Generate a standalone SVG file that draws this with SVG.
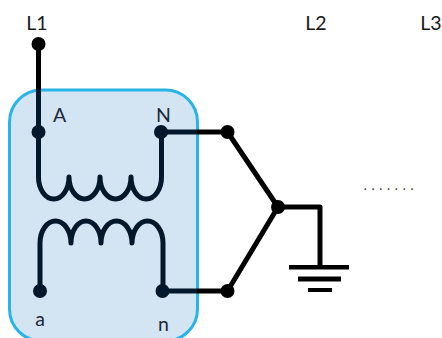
<svg xmlns="http://www.w3.org/2000/svg" width="442" height="338" viewBox="0 0 442 338">
<style>
.w{fill:none;stroke:#000;stroke-width:5;stroke-linejoin:round}
.i{fill:none;stroke:#04182c;stroke-width:5;stroke-linejoin:round}
.d{fill:#000}.n{fill:#04182c}
.g{fill:#000}
text{font-family:Lato,"Open Sans",sans-serif;font-size:19.500px;fill:#1a1a1a;text-anchor:middle}
.t{fill:#1c2a38}
</style>
<g id="box"><rect x="9.500" y="90" width="188" height="251" rx="32" ry="32" fill="#d3e4f2" stroke="#29b4e6" stroke-width="3"/></g>
<g id="connectors">
<path class="w" d="M38.500 44V90"/>
<path class="i" d="M38.500 90V132"/>
<path class="i" d="M38.500 132V177A15.250 22 0 0 0 69 177A15.500 22 0 0 0 100 177A15.500 22 0 0 0 131 177A15.250 22 0 0 0 161.500 177V132"/>
<path class="i" d="M40 291V243A15.500 22 0 0 1 71 243A15 22 0 0 1 101 243A15.500 22 0 0 1 132 243A15.500 22 0 0 1 163 243V291"/>
<path class="i" d="M161 132H197"/>
<path class="w" d="M197 132H227.500L278 207L227.500 291H197"/>
<path class="i" d="M162.500 291H197"/>
<path class="w" d="M278 207H320V267"/>
</g>
<g id="ground">
<rect class="g" x="289" y="265" width="60" height="4.500"/>
<rect class="g" x="298" y="276.500" width="43" height="5"/>
<rect class="g" x="308" y="288" width="24" height="4"/>
</g>
<g id="L1"><circle class="d" cx="38.500" cy="44" r="7"/><text x="37" y="30">L1</text></g>
<g id="L2"><text x="316" y="30">L2</text></g>
<g id="L3"><text x="431" y="30">L3</text></g>
<g id="A"><circle class="n" cx="38.500" cy="132" r="7"/><text class="t" x="59.500" y="122">A</text></g>
<g id="N"><circle class="n" cx="161" cy="132" r="7"/><text class="t" x="163.500" y="122">N</text></g>
<g id="a"><circle class="n" cx="40" cy="291" r="7"/><text class="t" x="40" y="326">a</text></g>
<g id="n"><circle class="n" cx="162.500" cy="291" r="7"/><text class="t" x="163.500" y="331">n</text></g>
<g id="j1"><circle class="d" cx="227.500" cy="132" r="7"/></g>
<g id="j2"><circle class="d" cx="227.500" cy="291" r="7"/></g>
<g id="star"><circle class="d" cx="278" cy="207" r="7"/></g>
<g id="dots"><text x="391" y="190" style="font-size:13px;letter-spacing:4.700px;fill:#333">.......</text></g>
</svg>
